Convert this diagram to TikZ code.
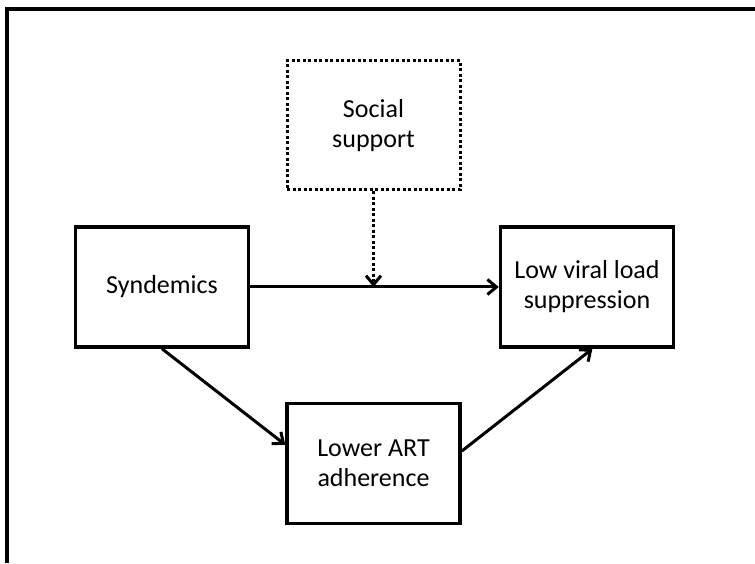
\documentclass[tikz,border=0pt]{standalone}
\usepackage{fontspec}
\setmainfont{Carlito}
\usetikzlibrary{arrows.meta}
\tikzset{
	box/.style={draw, line width=3.5pt, minimum width=173pt, minimum height=120pt, align=center, inner sep=0pt, font=\fontsize{26}{30}\selectfont},
	dotbox/.style={box, line width=3pt, dash pattern=on 3pt off 2.5pt, minimum height=129pt},
	link/.style={line width=3pt, -{Straight Barb[length=9pt,width=15pt,line width=3pt]}},
}

\begin{document}
\begin{tikzpicture}[x=1pt, y=1pt]
		%%%%% START %%%%%
		
		\useasboundingbox (0, 0) rectangle (755, 563);
		\draw[line width=3.5pt] (7, 0) -- (7, 554) -- (755, 554);
		
		\node[box] (syn) at (162, 276) {Syndemics};
		\node[box] (vir) at (587, 276) {Low viral load\\suppression};
		\node[dotbox] (soc) at (373.5, 437.5) {Social\\support};
		\node[box] (art) at (373.5, 99.5) {Lower ART\\adherence};
		
		\draw[link] (syn.east) -- (vir.west);
		\draw[link, dash pattern=on 3pt off 2.5pt] (soc.south) -- (soc.south |- syn.east);
		
		\draw[link] (syn.south) -- (art.168);
		\draw[link] (art.8) -- (vir.275);
		
		%%%%% END %%%%%
	\end{tikzpicture}
\end{document}
